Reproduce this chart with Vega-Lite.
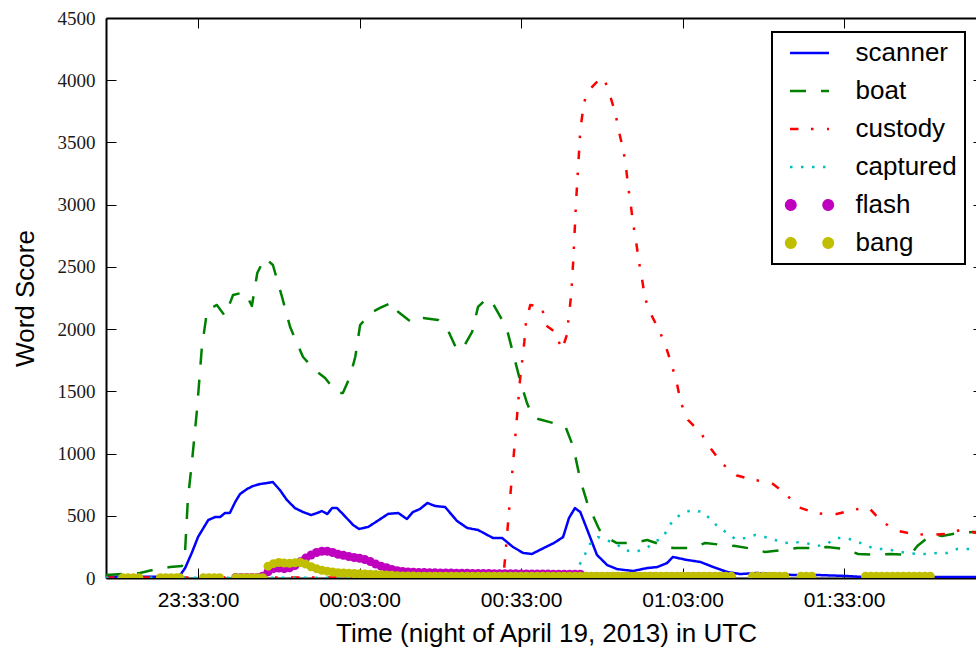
{
"$schema":"https://vega.github.io/schema/vega-lite/v6.json",
"width":870,"height":560,"autosize":"none",
"padding":{"left":106,"top":18,"right":0,"bottom":70},
"background":"white",
"config":{"font":"Liberation Sans","view":{"stroke":null},"axis":{"grid":false,"labelFlush":false,"labelOverlap":false}},
"data":{"format":{"parse":{"t":"utc:'%d %H:%M:%S'"}},"values":[
{"s":"scanner","t":"19 23:15:54","v":10},{"s":"scanner","t":"19 23:20:00","v":10},{"s":"scanner","t":"19 23:25:00","v":10},{"s":"scanner","t":"19 23:29:30","v":12},{"s":"scanner","t":"19 23:30:36","v":80},{"s":"scanner","t":"19 23:31:54","v":209},{"s":"scanner","t":"19 23:33:00","v":330},{"s":"scanner","t":"19 23:34:54","v":466},{"s":"scanner","t":"19 23:36:12","v":490},{"s":"scanner","t":"19 23:37:06","v":490},{"s":"scanner","t":"19 23:38:00","v":522},{"s":"scanner","t":"19 23:38:54","v":522},{"s":"scanner","t":"19 23:39:54","v":611},{"s":"scanner","t":"19 23:40:48","v":675},{"s":"scanner","t":"19 23:42:06","v":715},{"s":"scanner","t":"19 23:43:12","v":739},{"s":"scanner","t":"19 23:44:30","v":755},{"s":"scanner","t":"19 23:45:48","v":763},{"s":"scanner","t":"19 23:46:54","v":771},{"s":"scanner","t":"19 23:48:12","v":707},{"s":"scanner","t":"19 23:49:30","v":627},{"s":"scanner","t":"19 23:51:00","v":562},{"s":"scanner","t":"19 23:52:30","v":530},{"s":"scanner","t":"19 23:54:00","v":506},{"s":"scanner","t":"19 23:55:06","v":522},{"s":"scanner","t":"19 23:56:00","v":538},{"s":"scanner","t":"19 23:57:00","v":514},{"s":"scanner","t":"19 23:57:54","v":562},{"s":"scanner","t":"19 23:58:48","v":562},{"s":"scanner","t":"19 23:59:54","v":514},{"s":"scanner","t":"20 00:01:48","v":426},{"s":"scanner","t":"20 00:02:54","v":394},{"s":"scanner","t":"20 00:04:36","v":410},{"s":"scanner","t":"20 00:06:18","v":458},{"s":"scanner","t":"20 00:08:18","v":515},{"s":"scanner","t":"20 00:10:12","v":522},{"s":"scanner","t":"20 00:11:48","v":474},{"s":"scanner","t":"20 00:12:54","v":530},{"s":"scanner","t":"20 00:14:12","v":554},{"s":"scanner","t":"20 00:15:36","v":603},{"s":"scanner","t":"20 00:17:00","v":579},{"s":"scanner","t":"20 00:18:54","v":570},{"s":"scanner","t":"20 00:21:06","v":458},{"s":"scanner","t":"20 00:23:00","v":402},{"s":"scanner","t":"20 00:25:00","v":386},{"s":"scanner","t":"20 00:27:48","v":321},{"s":"scanner","t":"20 00:29:30","v":321},{"s":"scanner","t":"20 00:31:30","v":249},{"s":"scanner","t":"20 00:33:24","v":201},{"s":"scanner","t":"20 00:35:00","v":193},{"s":"scanner","t":"20 00:37:12","v":241},{"s":"scanner","t":"20 00:39:06","v":281},{"s":"scanner","t":"20 00:40:48","v":329},{"s":"scanner","t":"20 00:41:54","v":482},{"s":"scanner","t":"20 00:43:00","v":562},{"s":"scanner","t":"20 00:44:00","v":530},{"s":"scanner","t":"20 00:45:18","v":386},{"s":"scanner","t":"20 00:47:06","v":185},{"s":"scanner","t":"20 00:49:00","v":104},{"s":"scanner","t":"20 00:50:48","v":72},{"s":"scanner","t":"20 00:53:48","v":56},{"s":"scanner","t":"20 00:56:24","v":80},{"s":"scanner","t":"20 00:58:18","v":88},{"s":"scanner","t":"20 01:00:06","v":120},{"s":"scanner","t":"20 01:01:12","v":169},{"s":"scanner","t":"20 01:03:48","v":145},{"s":"scanner","t":"20 01:06:18","v":129},{"s":"scanner","t":"20 01:08:42","v":88},{"s":"scanner","t":"20 01:11:18","v":48},{"s":"scanner","t":"20 01:13:42","v":32},{"s":"scanner","t":"20 01:16:48","v":40},{"s":"scanner","t":"20 01:20:30","v":32},{"s":"scanner","t":"20 01:23:30","v":24},{"s":"scanner","t":"20 01:28:00","v":24},{"s":"scanner","t":"20 01:33:30","v":16},{"s":"scanner","t":"20 01:36:30","v":8},{"s":"scanner","t":"20 01:57:30","v":8},
{"s":"boat","t":"19 23:15:54","v":24},{"s":"boat","t":"19 23:22:12","v":40},{"s":"boat","t":"19 23:24:36","v":64},{"s":"boat","t":"19 23:27:48","v":88},{"s":"boat","t":"19 23:30:00","v":96},{"s":"boat","t":"19 23:30:36","v":225},{"s":"boat","t":"19 23:31:06","v":627},{"s":"boat","t":"19 23:31:54","v":948},{"s":"boat","t":"19 23:32:48","v":1350},{"s":"boat","t":"19 23:33:42","v":1850},{"s":"boat","t":"19 23:34:42","v":2154},{"s":"boat","t":"19 23:36:30","v":2194},{"s":"boat","t":"19 23:38:00","v":2105},{"s":"boat","t":"19 23:39:30","v":2274},{"s":"boat","t":"19 23:41:42","v":2298},{"s":"boat","t":"19 23:43:00","v":2186},{"s":"boat","t":"19 23:44:00","v":2451},{"s":"boat","t":"19 23:45:24","v":2572},{"s":"boat","t":"19 23:46:54","v":2515},{"s":"boat","t":"19 23:48:36","v":2258},{"s":"boat","t":"19 23:50:06","v":2017},{"s":"boat","t":"19 23:52:30","v":1776},{"s":"boat","t":"19 23:54:42","v":1671},{"s":"boat","t":"19 23:56:36","v":1607},{"s":"boat","t":"19 23:58:48","v":1487},{"s":"boat","t":"19 23:59:54","v":1487},{"s":"boat","t":"20 00:01:12","v":1615},{"s":"boat","t":"20 00:02:12","v":1776},{"s":"boat","t":"20 00:03:06","v":2033},{"s":"boat","t":"20 00:05:18","v":2137},{"s":"boat","t":"20 00:06:48","v":2170},{"s":"boat","t":"20 00:09:12","v":2218},{"s":"boat","t":"20 00:10:12","v":2137},{"s":"boat","t":"20 00:12:48","v":2049},{"s":"boat","t":"20 00:14:48","v":2089},{"s":"boat","t":"20 00:17:36","v":2073},{"s":"boat","t":"20 00:19:24","v":1993},{"s":"boat","t":"20 00:21:06","v":1832},{"s":"boat","t":"20 00:22:12","v":1848},{"s":"boat","t":"20 00:23:54","v":1977},{"s":"boat","t":"20 00:25:00","v":2178},{"s":"boat","t":"20 00:26:42","v":2250},{"s":"boat","t":"20 00:27:36","v":2218},{"s":"boat","t":"20 00:29:30","v":2073},{"s":"boat","t":"20 00:30:24","v":1993},{"s":"boat","t":"20 00:31:30","v":1808},{"s":"boat","t":"20 00:32:48","v":1591},{"s":"boat","t":"20 00:34:06","v":1406},{"s":"boat","t":"20 00:35:12","v":1294},{"s":"boat","t":"20 00:36:12","v":1278},{"s":"boat","t":"20 00:38:54","v":1246},{"s":"boat","t":"20 00:41:12","v":1221},{"s":"boat","t":"20 00:42:42","v":1053},{"s":"boat","t":"20 00:44:00","v":788},{"s":"boat","t":"20 00:45:18","v":603},{"s":"boat","t":"20 00:47:18","v":410},{"s":"boat","t":"20 00:48:06","v":345},{"s":"boat","t":"20 00:50:48","v":281},{"s":"boat","t":"20 00:53:48","v":281},{"s":"boat","t":"20 00:56:24","v":305},{"s":"boat","t":"20 00:59:12","v":265},{"s":"boat","t":"20 01:01:12","v":241},{"s":"boat","t":"20 01:04:42","v":241},{"s":"boat","t":"20 01:07:12","v":281},{"s":"boat","t":"20 01:10:30","v":265},{"s":"boat","t":"20 01:12:48","v":257},{"s":"boat","t":"20 01:16:06","v":233},{"s":"boat","t":"20 01:18:18","v":209},{"s":"boat","t":"20 01:21:42","v":225},{"s":"boat","t":"20 01:24:18","v":241},{"s":"boat","t":"20 01:27:36","v":241},{"s":"boat","t":"20 01:29:48","v":249},{"s":"boat","t":"20 01:33:12","v":233},{"s":"boat","t":"20 01:35:36","v":193},{"s":"boat","t":"20 01:39:06","v":185},{"s":"boat","t":"20 01:41:36","v":193},{"s":"boat","t":"20 01:45:18","v":185},{"s":"boat","t":"20 01:46:36","v":257},{"s":"boat","t":"20 01:49:24","v":354},{"s":"boat","t":"20 01:51:12","v":338},{"s":"boat","t":"20 01:54:12","v":362},{"s":"boat","t":"20 01:57:30","v":370},
{"s":"custody","t":"19 23:15:54","v":5},{"s":"custody","t":"20 00:29:42","v":5},{"s":"custody","t":"20 00:30:00","v":145},{"s":"custody","t":"20 00:31:24","v":868},{"s":"custody","t":"20 00:32:18","v":1326},{"s":"custody","t":"20 00:32:48","v":1591},{"s":"custody","t":"20 00:33:36","v":1897},{"s":"custody","t":"20 00:33:54","v":2049},{"s":"custody","t":"20 00:34:42","v":2194},{"s":"custody","t":"20 00:36:54","v":2178},{"s":"custody","t":"20 00:37:30","v":2033},{"s":"custody","t":"20 00:39:18","v":1977},{"s":"custody","t":"20 00:40:36","v":1832},{"s":"custody","t":"20 00:41:30","v":1953},{"s":"custody","t":"20 00:41:54","v":2113},{"s":"custody","t":"20 00:42:18","v":2274},{"s":"custody","t":"20 00:42:42","v":2555},{"s":"custody","t":"20 00:43:12","v":3013},{"s":"custody","t":"20 00:43:36","v":3303},{"s":"custody","t":"20 00:44:00","v":3600},{"s":"custody","t":"20 00:44:30","v":3761},{"s":"custody","t":"20 00:45:06","v":3897},{"s":"custody","t":"20 00:47:06","v":3986},{"s":"custody","t":"20 00:48:24","v":4018},{"s":"custody","t":"20 00:49:30","v":3881},{"s":"custody","t":"20 00:50:30","v":3737},{"s":"custody","t":"20 00:51:12","v":3584},{"s":"custody","t":"20 00:52:00","v":3439},{"s":"custody","t":"20 00:52:30","v":3295},{"s":"custody","t":"20 00:52:54","v":3142},{"s":"custody","t":"20 00:53:24","v":2989},{"s":"custody","t":"20 00:53:48","v":2853},{"s":"custody","t":"20 00:54:24","v":2692},{"s":"custody","t":"20 00:54:54","v":2539},{"s":"custody","t":"20 00:55:30","v":2395},{"s":"custody","t":"20 00:56:00","v":2250},{"s":"custody","t":"20 00:57:12","v":2113},{"s":"custody","t":"20 00:58:48","v":1977},{"s":"custody","t":"20 01:00:06","v":1832},{"s":"custody","t":"20 01:01:06","v":1696},{"s":"custody","t":"20 01:02:00","v":1551},{"s":"custody","t":"20 01:02:42","v":1406},{"s":"custody","t":"20 01:04:00","v":1270},{"s":"custody","t":"20 01:06:24","v":1165},{"s":"custody","t":"20 01:08:18","v":1037},{"s":"custody","t":"20 01:10:24","v":916},{"s":"custody","t":"20 01:13:06","v":824},{"s":"custody","t":"20 01:16:06","v":788},{"s":"custody","t":"20 01:19:18","v":771},{"s":"custody","t":"20 01:22:00","v":683},{"s":"custody","t":"20 01:24:30","v":570},{"s":"custody","t":"20 01:27:36","v":522},{"s":"custody","t":"20 01:30:54","v":506},{"s":"custody","t":"20 01:34:30","v":546},{"s":"custody","t":"20 01:37:30","v":570},{"s":"custody","t":"20 01:39:42","v":466},{"s":"custody","t":"20 01:42:30","v":382},{"s":"custody","t":"20 01:45:48","v":354},{"s":"custody","t":"20 01:49:00","v":346},{"s":"custody","t":"20 01:52:18","v":354},{"s":"custody","t":"20 01:55:06","v":394},{"s":"custody","t":"20 01:57:30","v":362},
{"s":"captured","t":"19 23:15:54","v":3},{"s":"captured","t":"20 00:43:18","v":3},{"s":"captured","t":"20 00:44:00","v":120},{"s":"captured","t":"20 00:44:54","v":193},{"s":"captured","t":"20 00:45:48","v":273},{"s":"captured","t":"20 00:47:18","v":329},{"s":"captured","t":"20 00:50:48","v":273},{"s":"captured","t":"20 00:52:00","v":225},{"s":"captured","t":"20 00:54:12","v":209},{"s":"captured","t":"20 00:56:24","v":241},{"s":"captured","t":"20 00:57:30","v":281},{"s":"captured","t":"20 00:59:24","v":329},{"s":"captured","t":"20 01:00:18","v":402},{"s":"captured","t":"20 01:01:24","v":474},{"s":"captured","t":"20 01:03:06","v":522},{"s":"captured","t":"20 01:04:42","v":546},{"s":"captured","t":"20 01:06:48","v":530},{"s":"captured","t":"20 01:08:06","v":474},{"s":"captured","t":"20 01:09:36","v":410},{"s":"captured","t":"20 01:11:18","v":362},{"s":"captured","t":"20 01:12:48","v":313},{"s":"captured","t":"20 01:14:36","v":321},{"s":"captured","t":"20 01:16:30","v":346},{"s":"captured","t":"20 01:18:18","v":329},{"s":"captured","t":"20 01:20:12","v":305},{"s":"captured","t":"20 01:22:00","v":281},{"s":"captured","t":"20 01:23:54","v":289},{"s":"captured","t":"20 01:25:54","v":281},{"s":"captured","t":"20 01:28:00","v":257},{"s":"captured","t":"20 01:29:48","v":273},{"s":"captured","t":"20 01:31:30","v":321},{"s":"captured","t":"20 01:33:24","v":321},{"s":"captured","t":"20 01:35:12","v":297},{"s":"captured","t":"20 01:36:54","v":265},{"s":"captured","t":"20 01:38:48","v":233},{"s":"captured","t":"20 01:40:48","v":233},{"s":"captured","t":"20 01:42:42","v":217},{"s":"captured","t":"20 01:44:30","v":201},{"s":"captured","t":"20 01:46:24","v":193},{"s":"captured","t":"20 01:48:24","v":193},{"s":"captured","t":"20 01:50:18","v":201},{"s":"captured","t":"20 01:52:06","v":201},{"s":"captured","t":"20 01:54:00","v":233},{"s":"captured","t":"20 01:55:54","v":233},{"s":"captured","t":"20 01:57:30","v":233},
{"s":"flash","t":"19 23:40:00","v":5},{"s":"flash","t":"19 23:41:00","v":5},{"s":"flash","t":"19 23:42:00","v":5},{"s":"flash","t":"19 23:43:00","v":5},{"s":"flash","t":"19 23:44:00","v":5},{"s":"flash","t":"19 23:45:00","v":15},{"s":"flash","t":"19 23:46:00","v":50},{"s":"flash","t":"19 23:47:00","v":75},{"s":"flash","t":"19 23:48:00","v":80},{"s":"flash","t":"19 23:49:00","v":75},{"s":"flash","t":"19 23:50:00","v":82},{"s":"flash","t":"19 23:51:00","v":100},{"s":"flash","t":"19 23:52:00","v":130},{"s":"flash","t":"19 23:53:00","v":160},{"s":"flash","t":"19 23:54:00","v":185},{"s":"flash","t":"19 23:55:00","v":205},{"s":"flash","t":"19 23:56:00","v":215},{"s":"flash","t":"19 23:57:00","v":215},{"s":"flash","t":"19 23:58:00","v":205},{"s":"flash","t":"19 23:59:00","v":190},{"s":"flash","t":"20 00:00:00","v":182},{"s":"flash","t":"20 00:01:00","v":172},{"s":"flash","t":"20 00:02:00","v":165},{"s":"flash","t":"20 00:03:00","v":158},{"s":"flash","t":"20 00:04:00","v":148},{"s":"flash","t":"20 00:05:00","v":132},{"s":"flash","t":"20 00:06:00","v":112},{"s":"flash","t":"20 00:07:00","v":95},{"s":"flash","t":"20 00:08:00","v":82},{"s":"flash","t":"20 00:09:00","v":68},{"s":"flash","t":"20 00:10:00","v":58},{"s":"flash","t":"20 00:11:00","v":52},{"s":"flash","t":"20 00:12:00","v":48},{"s":"flash","t":"20 00:13:00","v":46},{"s":"flash","t":"20 00:14:00","v":45},{"s":"flash","t":"20 00:15:00","v":44},{"s":"flash","t":"20 00:16:00","v":43},{"s":"flash","t":"20 00:17:00","v":42},{"s":"flash","t":"20 00:18:00","v":41},{"s":"flash","t":"20 00:19:00","v":40},{"s":"flash","t":"20 00:20:00","v":40},{"s":"flash","t":"20 00:21:00","v":39},{"s":"flash","t":"20 00:22:00","v":38},{"s":"flash","t":"20 00:23:00","v":38},{"s":"flash","t":"20 00:24:00","v":37},{"s":"flash","t":"20 00:25:00","v":37},{"s":"flash","t":"20 00:26:00","v":36},{"s":"flash","t":"20 00:27:00","v":36},{"s":"flash","t":"20 00:28:00","v":35},{"s":"flash","t":"20 00:29:00","v":35},{"s":"flash","t":"20 00:30:00","v":35},{"s":"flash","t":"20 00:31:00","v":34},{"s":"flash","t":"20 00:32:00","v":34},{"s":"flash","t":"20 00:33:00","v":33},{"s":"flash","t":"20 00:34:00","v":33},{"s":"flash","t":"20 00:35:00","v":33},{"s":"flash","t":"20 00:36:00","v":32},{"s":"flash","t":"20 00:37:00","v":32},{"s":"flash","t":"20 00:38:00","v":32},{"s":"flash","t":"20 00:39:00","v":31},{"s":"flash","t":"20 00:40:00","v":31},{"s":"flash","t":"20 00:41:00","v":31},{"s":"flash","t":"20 00:42:00","v":30},{"s":"flash","t":"20 00:43:00","v":30},{"s":"flash","t":"20 00:44:00","v":30},{"s":"flash","t":"20 00:45:00","v":12},{"s":"flash","t":"20 00:46:00","v":12},{"s":"flash","t":"20 00:47:00","v":12},{"s":"flash","t":"20 00:48:00","v":12},{"s":"flash","t":"20 00:49:00","v":12},{"s":"flash","t":"20 00:50:00","v":12},{"s":"flash","t":"20 00:51:00","v":12},{"s":"flash","t":"20 00:52:00","v":12},{"s":"flash","t":"20 00:53:00","v":12},{"s":"flash","t":"20 00:54:00","v":12},{"s":"flash","t":"20 00:55:00","v":12},{"s":"flash","t":"20 00:56:00","v":12},{"s":"flash","t":"20 00:57:00","v":12},{"s":"flash","t":"20 00:58:00","v":12},{"s":"flash","t":"20 00:59:00","v":12},{"s":"flash","t":"20 01:00:00","v":12},{"s":"flash","t":"20 01:01:00","v":12},{"s":"flash","t":"20 01:02:00","v":12},{"s":"flash","t":"20 01:03:00","v":12},{"s":"flash","t":"20 01:04:00","v":12},{"s":"flash","t":"20 01:05:00","v":12},{"s":"flash","t":"20 01:06:00","v":12},{"s":"flash","t":"20 01:07:00","v":12},{"s":"flash","t":"20 01:08:00","v":12},{"s":"flash","t":"20 01:09:00","v":12},{"s":"flash","t":"20 01:10:00","v":12},{"s":"flash","t":"20 01:11:00","v":12},{"s":"flash","t":"20 01:12:00","v":12},
{"s":"bang","t":"19 23:19:00","v":3},{"s":"bang","t":"19 23:20:00","v":3},{"s":"bang","t":"19 23:21:00","v":3},{"s":"bang","t":"19 23:22:00","v":3},{"s":"bang","t":"19 23:26:00","v":3},{"s":"bang","t":"19 23:27:00","v":3},{"s":"bang","t":"19 23:28:00","v":3},{"s":"bang","t":"19 23:29:00","v":3},{"s":"bang","t":"19 23:29:36","v":3},{"s":"bang","t":"19 23:34:00","v":3},{"s":"bang","t":"19 23:35:00","v":3},{"s":"bang","t":"19 23:36:00","v":3},{"s":"bang","t":"19 23:37:00","v":3},{"s":"bang","t":"19 23:40:00","v":3},{"s":"bang","t":"19 23:41:00","v":3},{"s":"bang","t":"19 23:42:00","v":3},{"s":"bang","t":"19 23:43:00","v":3},{"s":"bang","t":"19 23:44:00","v":3},{"s":"bang","t":"19 23:45:00","v":3},{"s":"bang","t":"19 23:46:00","v":95},{"s":"bang","t":"19 23:47:00","v":115},{"s":"bang","t":"19 23:48:00","v":125},{"s":"bang","t":"19 23:49:00","v":120},{"s":"bang","t":"19 23:50:00","v":118},{"s":"bang","t":"19 23:51:00","v":122},{"s":"bang","t":"19 23:52:00","v":125},{"s":"bang","t":"19 23:53:00","v":112},{"s":"bang","t":"19 23:54:00","v":90},{"s":"bang","t":"19 23:55:00","v":75},{"s":"bang","t":"19 23:56:00","v":62},{"s":"bang","t":"19 23:57:00","v":55},{"s":"bang","t":"19 23:58:00","v":48},{"s":"bang","t":"19 23:59:00","v":42},{"s":"bang","t":"20 00:00:00","v":40},{"s":"bang","t":"20 00:01:00","v":38},{"s":"bang","t":"20 00:02:00","v":36},{"s":"bang","t":"20 00:03:00","v":34},{"s":"bang","t":"20 00:04:00","v":32},{"s":"bang","t":"20 00:05:00","v":30},{"s":"bang","t":"20 00:06:00","v":28},{"s":"bang","t":"20 00:07:00","v":26},{"s":"bang","t":"20 00:08:00","v":24},{"s":"bang","t":"20 00:09:00","v":22},{"s":"bang","t":"20 00:10:00","v":18},{"s":"bang","t":"20 00:11:00","v":17},{"s":"bang","t":"20 00:12:00","v":16},{"s":"bang","t":"20 00:13:00","v":16},{"s":"bang","t":"20 00:14:00","v":15},{"s":"bang","t":"20 00:15:00","v":15},{"s":"bang","t":"20 00:16:00","v":15},{"s":"bang","t":"20 00:17:00","v":15},{"s":"bang","t":"20 00:18:00","v":15},{"s":"bang","t":"20 00:19:00","v":15},{"s":"bang","t":"20 00:20:00","v":15},{"s":"bang","t":"20 00:21:00","v":15},{"s":"bang","t":"20 00:22:00","v":15},{"s":"bang","t":"20 00:23:00","v":15},{"s":"bang","t":"20 00:24:00","v":15},{"s":"bang","t":"20 00:25:00","v":15},{"s":"bang","t":"20 00:26:00","v":15},{"s":"bang","t":"20 00:27:00","v":15},{"s":"bang","t":"20 00:28:00","v":15},{"s":"bang","t":"20 00:29:00","v":15},{"s":"bang","t":"20 00:30:00","v":15},{"s":"bang","t":"20 00:31:00","v":15},{"s":"bang","t":"20 00:32:00","v":15},{"s":"bang","t":"20 00:33:00","v":15},{"s":"bang","t":"20 00:34:00","v":15},{"s":"bang","t":"20 00:35:00","v":15},{"s":"bang","t":"20 00:36:00","v":15},{"s":"bang","t":"20 00:37:00","v":15},{"s":"bang","t":"20 00:38:00","v":15},{"s":"bang","t":"20 00:39:00","v":15},{"s":"bang","t":"20 00:40:00","v":15},{"s":"bang","t":"20 00:41:00","v":15},{"s":"bang","t":"20 00:42:00","v":15},{"s":"bang","t":"20 00:43:00","v":15},{"s":"bang","t":"20 00:44:00","v":15},{"s":"bang","t":"20 00:45:00","v":15},{"s":"bang","t":"20 00:46:00","v":15},{"s":"bang","t":"20 00:47:00","v":15},{"s":"bang","t":"20 00:48:00","v":15},{"s":"bang","t":"20 00:49:00","v":15},{"s":"bang","t":"20 00:50:00","v":15},{"s":"bang","t":"20 00:51:00","v":15},{"s":"bang","t":"20 00:52:00","v":15},{"s":"bang","t":"20 00:53:00","v":15},{"s":"bang","t":"20 00:54:00","v":15},{"s":"bang","t":"20 00:55:00","v":15},{"s":"bang","t":"20 00:56:00","v":15},{"s":"bang","t":"20 00:57:00","v":15},{"s":"bang","t":"20 00:58:00","v":15},{"s":"bang","t":"20 00:59:00","v":15},{"s":"bang","t":"20 01:00:00","v":15},{"s":"bang","t":"20 01:01:00","v":15},{"s":"bang","t":"20 01:02:00","v":15},{"s":"bang","t":"20 01:03:00","v":15},{"s":"bang","t":"20 01:04:00","v":15},{"s":"bang","t":"20 01:05:00","v":15},{"s":"bang","t":"20 01:06:00","v":15},{"s":"bang","t":"20 01:07:00","v":15},{"s":"bang","t":"20 01:08:00","v":15},{"s":"bang","t":"20 01:09:00","v":15},{"s":"bang","t":"20 01:10:00","v":15},{"s":"bang","t":"20 01:11:00","v":15},{"s":"bang","t":"20 01:12:00","v":15},{"s":"bang","t":"20 01:16:00","v":15},{"s":"bang","t":"20 01:17:00","v":15},{"s":"bang","t":"20 01:18:00","v":15},{"s":"bang","t":"20 01:19:00","v":15},{"s":"bang","t":"20 01:20:00","v":15},{"s":"bang","t":"20 01:21:00","v":15},{"s":"bang","t":"20 01:22:00","v":15},{"s":"bang","t":"20 01:25:00","v":15},{"s":"bang","t":"20 01:26:00","v":15},{"s":"bang","t":"20 01:27:00","v":15},{"s":"bang","t":"20 01:37:00","v":15},{"s":"bang","t":"20 01:38:00","v":15},{"s":"bang","t":"20 01:39:00","v":15},{"s":"bang","t":"20 01:40:00","v":15},{"s":"bang","t":"20 01:41:00","v":15},{"s":"bang","t":"20 01:42:00","v":15},{"s":"bang","t":"20 01:43:00","v":15},{"s":"bang","t":"20 01:44:00","v":15},{"s":"bang","t":"20 01:45:00","v":15},{"s":"bang","t":"20 01:46:00","v":15},{"s":"bang","t":"20 01:47:00","v":15},{"s":"bang","t":"20 01:48:00","v":15},{"s":"bang","t":"20 01:49:00","v":15}
]},
"layer":[
{"transform":[{"filter":{"field":"s","oneOf":["scanner","boat","custody","captured"]}}],
 "mark":{"type":"line","strokeWidth":2.5,"clip":true,"strokeJoin":"round"},
 "encoding":{
  "x":{"field":"t","type":"temporal","scale":{"type":"utc","nice":false,"domain":[{"year":1900,"month":1,"date":19,"hours":23,"minutes":15,"seconds":54,"utc":true},{"year":1900,"month":1,"date":20,"hours":1,"minutes":57,"seconds":30,"utc":true}]},
   "axis":{"orient":"bottom","format":"%H:%M:%S","values":[{"year":1900,"month":1,"date":19,"hours":23,"minutes":33,"utc":true},{"year":1900,"month":1,"date":20,"hours":0,"minutes":3,"utc":true},{"year":1900,"month":1,"date":20,"hours":0,"minutes":33,"utc":true},{"year":1900,"month":1,"date":20,"hours":1,"minutes":3,"utc":true},{"year":1900,"month":1,"date":20,"hours":1,"minutes":33,"utc":true}],
    "title":"Time (night of April 19, 2013) in UTC","titleFont":"Liberation Sans","titleFontSize":26,"titleFontWeight":"normal","titleColor":"black","titleX":440,"titleY":63,"titleBaseline":"alphabetic","titleAlign":"center",
    "labelFont":"Liberation Sans","labelFontSize":21,"labelColor":"black","labelPadding":21,
    "tickSize":-10,"tickColor":"black","tickWidth":1,"domainColor":"black","domainWidth":2}},
  "y":{"field":"v","type":"quantitative","scale":{"domain":[0,4500],"nice":false},
   "axis":{"orient":"left","format":"d","values":[0,500,1000,1500,2000,2500,3000,3500,4000,4500],
    "title":"Word Score","titleFont":"Liberation Sans","titleFontSize":26,"titleFontWeight":"normal","titleColor":"black","titleX":-73,"titleY":280,"titleBaseline":"alphabetic","titleAlign":"center","titleAngle":270,
    "labelFont":"Liberation Serif","labelFontSize":19,"labelColor":"#1a1a1a","labelPadding":21,
    "tickSize":-10,"tickColor":"black","tickWidth":1,"domainColor":"black","domainWidth":2}},
  "color":{"field":"s","type":"nominal","scale":{"domain":["scanner","boat","custody","captured","flash","bang"],"range":["#0000ff","#008000","#ff0000","#00bfbf","#bf00bf","#bfbf00"]},
   "legend":{"orient":"none","legendX":666,"legendY":14,"title":null,"symbolType":"stroke","symbolSize":100,"symbolOffset":16.5,"symbolStrokeWidth":2.5,
    "labelFont":"Liberation Sans","labelFontSize":26,"labelColor":"black","labelOffset":33,"labelLimit":0,
    "padding":8,"rowPadding":12,"strokeColor":"black","fillColor":"white",
    "encode":{"legend":{"update":{"strokeWidth":{"value":2}}},
     "symbols":{"update":{
      "size":{"value":100},
      "shape":{"signal":"datum.value=='flash'||datum.value=='bang' ? 'M-4.68,0a0.94,0.94 0 1,0 1.88,0a0.94,0.94 0 1,0 -1.88,0ZM2.8,0a0.94,0.94 0 1,0 1.88,0a0.94,0.94 0 1,0 -1.88,0Z' : 'M-3.9,0L3.9,0'"},
      "fill":{"signal":"datum.value=='flash' ? '#bf00bf' : datum.value=='bang' ? '#bfbf00' : 'transparent'"},
      "stroke":{"signal":"datum.value=='scanner' ? '#0000ff' : datum.value=='boat' ? '#008000' : datum.value=='custody' ? '#ff0000' : datum.value=='captured' ? '#00bfbf' : 'transparent'"},
      "strokeDash":{"signal":"datum.value=='boat' ? [16,15] : datum.value=='custody' ? [8.5,12.5,2.5,13.5] : datum.value=='captured' ? [2.5,8.5] : [1,0]"},
      "strokeWidth":{"value":2.5},"opacity":{"value":1}}}}}},
  "strokeDash":{"field":"s","type":"nominal","scale":{"domain":["scanner","boat","custody","captured"],"range":[[1,0],[16,15],[8.5,12.5,2.5,13.5],[2.5,8.5]]},"legend":null}
 }},
{"transform":[{"filter":"datum.s=='flash'"}],
 "mark":{"type":"point","filled":true,"size":81,"opacity":1,"clip":true},
 "encoding":{
  "x":{"field":"t","type":"temporal","axis":null},
  "y":{"field":"v","type":"quantitative","axis":null},
  "color":{"field":"s","type":"nominal","legend":null}}},
{"transform":[{"filter":"datum.s=='bang'"}],
 "mark":{"type":"point","filled":true,"size":81,"opacity":1,"clip":true},
 "encoding":{
  "x":{"field":"t","type":"temporal","axis":{"orient":"top","labels":false,"title":null,"values":[{"year":1900,"month":1,"date":19,"hours":23,"minutes":33,"utc":true},{"year":1900,"month":1,"date":20,"hours":0,"minutes":3,"utc":true},{"year":1900,"month":1,"date":20,"hours":0,"minutes":33,"utc":true},{"year":1900,"month":1,"date":20,"hours":1,"minutes":3,"utc":true},{"year":1900,"month":1,"date":20,"hours":1,"minutes":33,"utc":true}],"tickSize":-10,"tickColor":"black","tickWidth":1,"domainColor":"black","domainWidth":2}},
  "y":{"field":"v","type":"quantitative","axis":{"orient":"right","labels":false,"title":null,"domain":false,"values":[0,500,1000,1500,2000,2500,3000,3500,4000,4500],"tickSize":-3,"tickColor":"black","tickWidth":1}},
  "color":{"field":"s","type":"nominal","legend":null}}}
],
"resolve":{"axis":{"x":"independent","y":"independent"}}
}
